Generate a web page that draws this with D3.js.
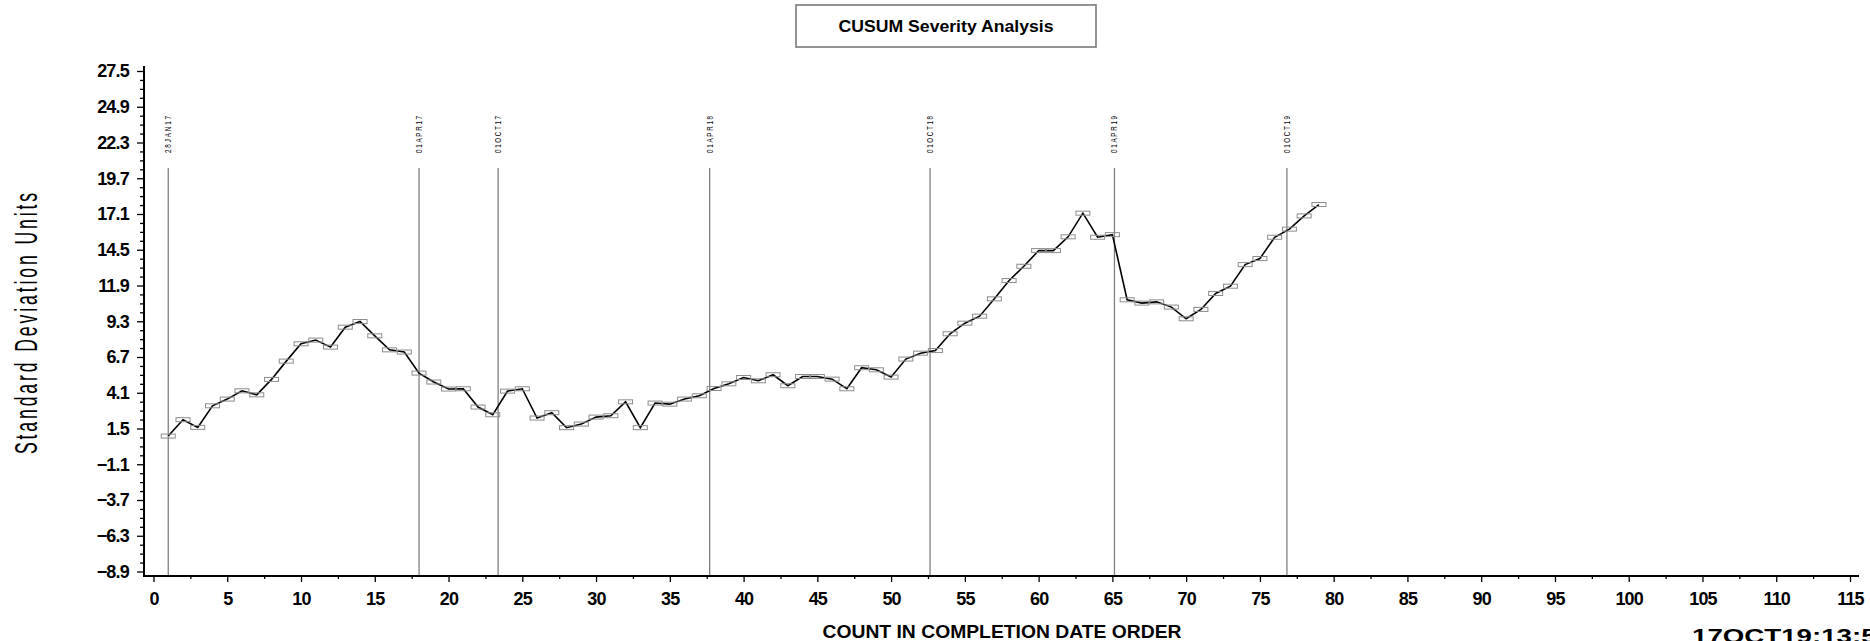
<!DOCTYPE html>
<html>
<head>
<meta charset="utf-8">
<script src="https://cdn.jsdelivr.net/npm/d3@7"></script>
<style>
body { margin: 0; background: #fff; }
text { font-family: "Liberation Sans", Arial, sans-serif; }
</style>
</head>
<body>
<script>
// CUSUM values, one per count in completion date order (count = index + 1)
var cusumValues = [0.95, 2.14, 1.58, 3.15, 3.64, 4.24, 3.95, 5.07, 6.40, 7.66,
    7.93, 7.42, 8.87, 9.28, 8.24, 7.22, 7.06, 5.53, 4.88, 4.37,
    4.39, 3.06, 2.50, 4.22, 4.39, 2.26, 2.65, 1.56, 1.82, 2.33,
    2.43, 3.44, 1.56, 3.35, 3.27, 3.64, 3.88, 4.41, 4.75, 5.21,
    4.97, 5.41, 4.61, 5.28, 5.28, 5.09, 4.39, 5.92, 5.77, 5.24,
    6.55, 6.98, 7.17, 8.39, 9.16, 9.67, 10.93, 12.26, 13.30, 14.44,
    14.44, 15.44, 17.16, 15.41, 15.60, 10.86, 10.62, 10.71, 10.33, 9.48,
    10.16, 11.32, 11.85, 13.42, 13.86, 15.41, 16.00, 16.96, 17.79];

// date reference lines
var refLabels = ["28JAN17", "01APR17", "01OCT17", "01APR18", "01OCT18", "01APR19", "01OCT19"];
var refCounts = [1, 18, 23.36, 37.7, 52.64, 65.14, 76.83];

// axis ticks
var yTicks = [-8.9, -6.3, -3.7, -1.1, 1.5, 4.1, 6.7, 9.3, 11.9, 14.5, 17.1, 19.7, 22.3, 24.9, 27.5];
var xTicks = [0, 5, 10, 15, 20, 25, 30, 35, 40, 45, 50, 55, 60, 65, 70, 75, 80, 85, 90, 95, 100, 105, 110, 115];

var width = 1870, height = 641;

var svg = d3.select("body").append("svg")
    .attr("width", width)
    .attr("height", height);

var x = d3.scaleLinear().domain([0, 115]).range([153.5, 1850]);
var y = d3.scaleLinear().domain([-8.9, 27.5]).range([571.5, 71]);

// minor tick positions (between the labelled ones)
var yMinor = [];
for (var i = 0; i < yTicks.length - 1; i++) {
    var step = (yTicks[i + 1] - yTicks[i]) / 4;
    for (var k = 1; k < 4; k++) yMinor.push(yTicks[i] + step * k);
}
var xMinor = xTicks.slice(0, -1).map(function(d){ return d + 2.5; });

// title box
svg.append("rect")
    .attr("x", 796).attr("y", 5)
    .attr("width", 300).attr("height", 42)
    .style("fill", "none")
    .style("stroke", "#808080")
    .style("stroke-width", 1.7);

svg.append("text")
    .attr("x", 946).attr("y", 32)
    .attr("text-anchor", "middle")
    .attr("textLength", 215)
    .attr("lengthAdjust", "spacingAndGlyphs")
    .style("font-size", "17px")
    .style("font-weight", "bold")
    .text("CUSUM Severity Analysis");

// reference lines for dates
var refs = svg.selectAll(".ref")
    .data(refCounts)
    .enter()
    .append("g")
    .attr("class", "ref");

refs.append("line")
    .attr("x1", d => x(d)).attr("x2", d => x(d))
    .attr("y1", 168).attr("y2", 576)
    .style("stroke", "#808080")
    .style("stroke-width", 1.3);

refs.append("text")
    .attr("transform", d => "translate(" + (x(d) + 3) + ",153) rotate(-90) scale(0.7,1)")
    .attr("textLength", 53)
    .attr("lengthAdjust", "spacing")
    .style("font-size", "9px")
    .text((d, i) => refLabels[i]);

// y axis
var yAxis = svg.append("g")
    .attr("transform", "translate(144,0)")
    .call(d3.axisLeft(y).tickValues(yTicks).tickSize(7).tickPadding(8)
        .tickFormat(d => d3.format(".1f")(d).replace("-", "\u2212")));
yAxis.select(".domain").remove();

var yAxisMinor = svg.append("g")
    .attr("transform", "translate(144,0)")
    .call(d3.axisLeft(y).tickValues(yMinor).tickSize(4).tickFormat(""));
yAxisMinor.select(".domain").remove();

// x axis
var xAxis = svg.append("g")
    .attr("transform", "translate(0,576)")
    .call(d3.axisBottom(x).tickValues(xTicks).tickSize(6).tickPadding(10));
xAxis.select(".domain").remove();

var xAxisMinor = svg.append("g")
    .attr("transform", "translate(0,576)")
    .call(d3.axisBottom(x).tickValues(xMinor).tickSize(3).tickFormat(""));
xAxisMinor.select(".domain").remove();

svg.selectAll(".tick line")
    .style("stroke", "#000")
    .style("stroke-width", 1.3);

svg.selectAll(".tick text")
    .style("font-family", "'Liberation Sans', Arial, sans-serif")
    .style("font-size", "18px")
    .style("font-weight", "bold")
    .style("letter-spacing", "-0.8px")
    .style("fill", "#000");

// axis lines
svg.append("line")
    .attr("x1", 144).attr("x2", 144)
    .attr("y1", 66).attr("y2", 577)
    .style("stroke", "#000").style("stroke-width", 2);
svg.append("line")
    .attr("x1", 143).attr("x2", 1859)
    .attr("y1", 576).attr("y2", 576)
    .style("stroke", "#000").style("stroke-width", 2);

// axis titles
svg.append("text")
    .attr("transform", "translate(37,323.5) rotate(-90) scale(0.55,1)")
    .attr("text-anchor", "middle")
    .attr("textLength", 475)
    .attr("lengthAdjust", "spacing")
    .style("font-size", "32px")
    .text("Standard Deviation Units");

svg.append("text")
    .attr("x", 1002).attr("y", 638)
    .attr("text-anchor", "middle")
    .attr("textLength", 359)
    .attr("lengthAdjust", "spacingAndGlyphs")
    .style("font-size", "18px")
    .style("font-weight", "bold")
    .text("COUNT IN COMPLETION DATE ORDER");

svg.append("text")
    .attr("x", 1692).attr("y", 643)
    .attr("textLength", 200)
    .attr("lengthAdjust", "spacingAndGlyphs")
    .style("font-size", "20px")
    .style("font-weight", "bold")
    .text("17OCT19:13:56");

// CUSUM line and markers
var line = d3.line()
    .x((d, i) => x(i + 1))
    .y(d => y(d));

svg.append("path")
    .datum(cusumValues)
    .attr("d", line)
    .style("fill", "none")
    .style("stroke", "#000")
    .style("stroke-width", 1.6);

svg.selectAll(".marker")
    .data(cusumValues)
    .enter()
    .append("rect")
    .attr("class", "marker")
    .attr("x", (d, i) => x(i + 1) - 7)
    .attr("y", d => y(d) - 2)
    .attr("width", 14)
    .attr("height", 4)
    .style("fill", "none")
    .style("stroke", "#8c8c8c")
    .style("stroke-width", 1);
</script>
</body>
</html>
